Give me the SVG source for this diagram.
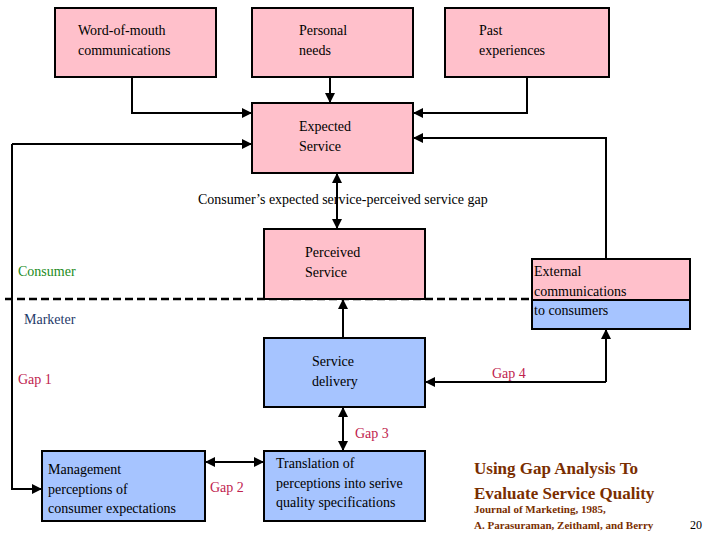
<svg xmlns="http://www.w3.org/2000/svg" width="720" height="540" viewBox="0 0 720 540">
<style>
text{font-family:"Liberation Serif",serif;font-size:14px;fill:#000}
.pk{fill:#ffc0cb;stroke:#000;stroke-width:2}
.bl{fill:#a6c4ff;stroke:#000;stroke-width:2}
.gap{fill:#c0224e}
.ln{fill:none;stroke:#000;stroke-width:2}
.tt{fill:#7a2e00;font-weight:bold}
</style>
<defs>
<marker id="a" viewBox="0 0 10 10" refX="9" refY="5" markerWidth="5" markerHeight="5" orient="auto-start-reverse"><path d="M0,0L10,5L0,10z" fill="#000"/></marker>
</defs>
<rect width="720" height="540" fill="#fff"/>
<g id="connectors">
<path class="ln" d="M132,77V113H251" marker-end="url(#a)"/>
<path class="ln" d="M330,77V102" marker-end="url(#a)"/>
<path class="ln" d="M527,77V113H414" marker-end="url(#a)"/>
<path class="ln" d="M12,144V489H41" marker-end="url(#a)"/>
<path class="ln" d="M12,144H251" marker-end="url(#a)"/>
<path class="ln" d="M606,259V138H414" marker-end="url(#a)"/>
<path class="ln" d="M337,174V228" marker-start="url(#a)" marker-end="url(#a)"/>
<path class="ln" d="M343,338V300" marker-end="url(#a)"/>
<path class="ln" d="M606,382V330" marker-end="url(#a)"/>
<path class="ln" d="M606,382H426" marker-end="url(#a)"/>
<path class="ln" d="M343,408V450" marker-start="url(#a)" marker-end="url(#a)"/>
<path class="ln" d="M206,462H263" marker-start="url(#a)" marker-end="url(#a)"/>
<path d="M5,299H532" stroke="#000" stroke-width="2.5" stroke-dasharray="8,4"/>
</g>
<g id="wom"><rect class="pk" x="55" y="8" width="161" height="69"/><text x="78" y="35">Word-of-mouth</text><text x="78" y="55">communications</text></g>
<g id="personal"><rect class="pk" x="252" y="8" width="161" height="69"/><text x="299" y="35">Personal</text><text x="299" y="55">needs</text></g>
<g id="past"><rect class="pk" x="445" y="8" width="164" height="69"/><text x="479" y="35">Past</text><text x="479" y="55">experiences</text></g>
<g id="expected"><rect class="pk" x="252" y="103" width="161" height="70"/><text x="299" y="131">Expected</text><text x="299" y="151">Service</text></g>
<text x="198" y="204">Consumer’s expected service-perceived service gap</text>
<g id="perceived"><rect class="pk" x="264" y="229" width="161" height="70"/><text x="305" y="257">Perceived</text><text x="305" y="277">Service</text></g>
<g id="external"><rect class="pk" x="532" y="259" width="158" height="41"/><rect class="bl" x="532" y="300" width="158" height="29"/><text x="534" y="276">External</text><text x="534" y="296">communications</text><text x="534" y="315">to consumers</text></g>
<text x="18" y="276" fill="#228b22" style="fill:#228b22">Consumer</text>
<text x="24" y="324" style="fill:#1f3a6a">Marketer</text>
<g id="delivery"><rect class="bl" x="264" y="338" width="161" height="69"/><text x="312" y="366">Service</text><text x="312" y="386">delivery</text></g>
<text class="gap" x="18" y="384">Gap 1</text>
<text class="gap" x="492" y="378">Gap 4</text>
<text class="gap" x="355" y="438">Gap 3</text>
<text class="gap" x="210" y="492">Gap 2</text>
<g id="management"><rect class="bl" x="42" y="451" width="163" height="70"/><text x="48" y="474">Management</text><text x="48" y="494">perceptions of</text><text x="48" y="513">consumer expectations</text></g>
<g id="translation"><rect class="bl" x="264" y="451" width="161" height="70"/><text x="276" y="468">Translation of</text><text x="276" y="488">perceptions into serive</text><text x="276" y="507">quality specifications</text></g>
<text class="tt" x="474" y="474" style="font-size:17px">Using Gap Analysis To</text>
<text class="tt" x="474" y="499" style="font-size:17px">Evaluate Service Quality</text>
<text class="tt" x="474" y="513" style="font-size:11px">Journal of Marketing, 1985,</text>
<text class="tt" x="474" y="529" style="font-size:11px">A. Parasuraman, Zeithaml, and Berry</text>
<text x="690" y="529" style="font-size:12px">20</text>
</svg>
